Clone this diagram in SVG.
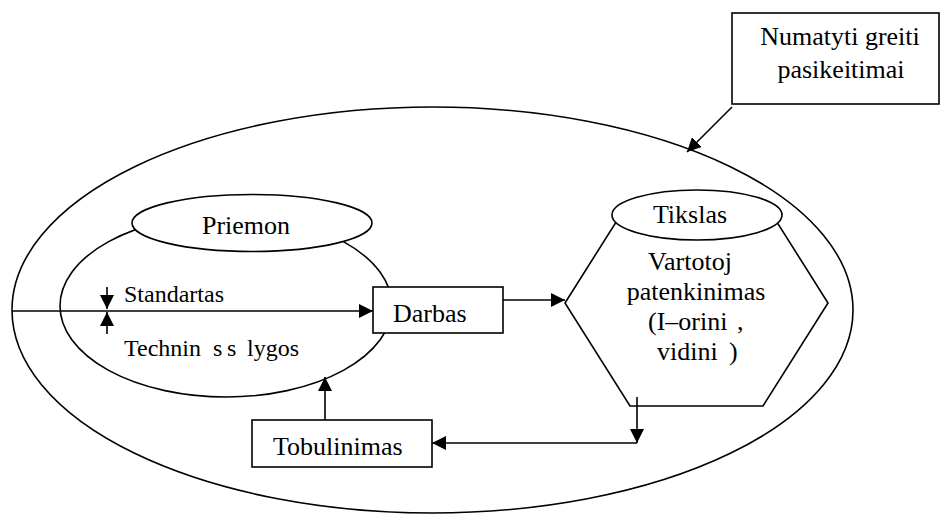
<svg xmlns="http://www.w3.org/2000/svg" width="941" height="514" viewBox="0 0 941 514">
  <style>
    .shape { fill: #fff; stroke: #000; stroke-width: 1.6; }
    .outline { fill: none; stroke: #000; stroke-width: 1.6; }
    .line { fill: none; stroke: #000; stroke-width: 1.6; }
    .arrow { fill: none; stroke: #000; stroke-width: 1.6; marker-end: url(#head); }
    text { font-family: 'Liberation Serif', 'DejaVu Serif', serif; font-size: 26px; fill: #000; }
    .mid { text-anchor: middle; }
    .small { font-size: 24px; }
  </style>
  <defs>
    <marker id="head" viewBox="0 0 14 14" refX="14" refY="7" markerWidth="14" markerHeight="14" markerUnits="userSpaceOnUse" orient="auto">
      <path d="M0,0 L14,7 L0,14 Z" fill="#000"/>
    </marker>
  </defs>

  <rect width="941" height="514" fill="#fff"/>

  <!-- outer boundary -->
  <ellipse id="boundary" class="outline" cx="432.5" cy="310" rx="420.5" ry="203"/>

  <!-- process area -->
  <g id="process">
    <ellipse class="outline" cx="226" cy="306" rx="166" ry="91"/>
  </g>

  <g id="priemon">
    <ellipse class="shape" cx="252" cy="223" rx="120" ry="28.5"/>
    <text x="246" y="234" class="mid">Priemon</text>
  </g>

  <g id="goal">
    <polygon class="shape" points="565,303 630,200 763,200 828,303 763,406 630,406"/>
    <text x="690" y="270" class="mid">Vartotoj</text>
    <text x="696" y="300" class="mid">patenkinimas</text>
    <text x="648" y="330">(I–orini <tspan x="737">,</tspan></text>
    <text x="657" y="360">vidini <tspan x="729">)</tspan></text>
  </g>

  <g id="tikslas">
    <ellipse class="shape" cx="697" cy="215" rx="85" ry="25"/>
    <text x="690" y="223" class="mid">Tikslas</text>
  </g>

  <g id="darbas">
    <rect class="shape" x="373" y="287" width="130" height="46"/>
    <text x="393" y="322">Darbas</text>
  </g>

  <g id="tobulinimas">
    <rect class="shape" x="252" y="420" width="180" height="47"/>
    <text x="273" y="455">Tobulinimas</text>
  </g>

  <g id="numatyti">
    <rect class="shape" x="732" y="13" width="207" height="91"/>
    <text x="840" y="45" class="mid">Numatyti greiti</text>
    <text x="841" y="78" class="mid">pasikeitimai</text>
  </g>

  <g id="labels">
    <text x="124" y="302" class="small">Standartas</text>
    <text x="124" y="356" class="small">Technin <tspan x="213">s</tspan> <tspan x="227">s</tspan> <tspan x="247">lygos</tspan></text>
  </g>

  <g id="connectors">
    <line class="arrow" x1="12" y1="311" x2="373" y2="311"/>
    <line class="arrow" x1="107" y1="287" x2="107" y2="309"/>
    <line class="arrow" x1="107" y1="334" x2="107" y2="312"/>
    <line class="arrow" x1="503" y1="300" x2="565" y2="300"/>
    <line class="arrow" x1="637" y1="397" x2="637" y2="443"/>
    <line class="arrow" x1="637" y1="443" x2="432" y2="443"/>
    <line class="arrow" x1="325" y1="420" x2="325" y2="377"/>
    <line class="arrow" x1="732" y1="107" x2="687" y2="152"/>
  </g>
</svg>
